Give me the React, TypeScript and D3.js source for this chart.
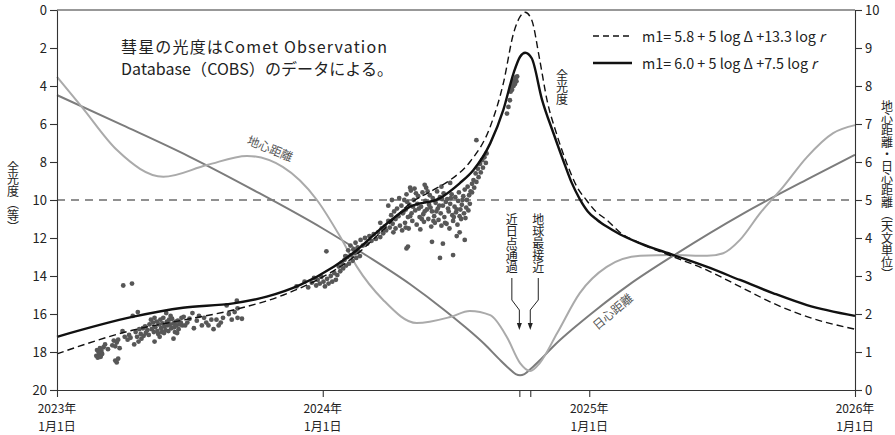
import React, { useEffect, useRef } from 'react';
import * as d3 from 'd3';

const FONT = '"Noto Sans CJK JP", "Noto Sans", sans-serif';
const t0 = Date.UTC(2023, 0, 1);
const dayToDate = (d: number) => new Date(t0 + d * 86400000);

// all series: [days since 2023-01-01, value]
// m1 = 5.8 + 5 log Δ + 13.3 log r (dashed)
const magSteep: [number, number][] = [
  [0, 18.1], [105, 16.84], [173, 16.32], [242, 15.79], [311, 15.0], [357, 14.21],
  [402, 13.16], [448, 11.58], [485, 10.18], [517, 9.47], [540, 8.95], [567, 8.0],
  [595, 6.14], [613, 3.86], [627, 1.23], [636, 0.35], [643, 0.12], [652, 0.53],
  [663, 2.63], [673, 4.74], [686, 6.5], [702, 8.25], [714, 9.3], [727, 10.0], [740, 10.6],
  [755, 11.05], [773, 11.7], [801, 12.28], [846, 12.98], [892, 13.68], [938, 14.56],
  [984, 15.44], [1030, 16.14], [1096, 16.8],
];
// m1 = 6.0 + 5 log Δ + 7.5 log r (solid)
const magShallow: [number, number][] = [
  [0, 17.2], [105, 16.14], [173, 15.67], [242, 15.44], [288, 15.09], [334, 14.47],
  [380, 13.51], [412, 12.63], [448, 11.4], [485, 10.35], [526, 9.9], [553, 9.12],
  [572, 8.42], [595, 7.02], [613, 5.26], [627, 3.33], [636, 2.46], [643, 2.25],
  [652, 2.54], [666, 4.7], [682, 6.5], [698, 8.2], [707, 9.1], [718, 9.95], [729, 10.6],
  [742, 11.05], [755, 11.4], [773, 11.8], [801, 12.28], [846, 12.89], [892, 13.51],
  [938, 14.21], [984, 14.91], [1030, 15.53], [1096, 16.1],
];
// geocentric distance Δ (AU)
const geoDist: [number, number][] = [
  [0, 8.24], [34, 7.45], [82, 6.32], [146, 5.61], [206, 5.92], [261, 6.16], [310, 5.87],
  [357, 5.0], [389, 4.03], [412, 3.24], [448, 2.37], [494, 1.76], [540, 1.92], [567, 2.08],
  [595, 1.97], [618, 1.39], [636, 0.71], [650, 0.5], [663, 0.71], [687, 1.5], [718, 2.55],
  [755, 3.24], [801, 3.53], [846, 3.55], [893, 3.53], [915, 3.6], [938, 3.95], [966, 4.66],
  [997, 5.34], [1030, 6.13], [1066, 6.76], [1096, 6.97],
];
// heliocentric distance r (AU)
const helioDist: [number, number][] = [
  [0, 7.76], [90, 6.97], [181, 6.15], [273, 5.23], [365, 4.25], [425, 3.54], [486, 2.77],
  [531, 2.12], [561, 1.65], [587, 1.21], [607, 0.82], [620, 0.58], [630, 0.42], [636, 0.39],
  [642, 0.42], [652, 0.58], [665, 0.82], [685, 1.21], [711, 1.65], [741, 2.12], [785, 2.76],
  [851, 3.59], [943, 4.65], [1035, 5.59], [1096, 6.19],
];
// COBS observations
const observations: [number, number][] = [
  [54, 18.2], [55, 17.9], [56, 18.3], [57, 18.0], [58, 18.15], [59, 17.8], [60, 18.25], [61, 17.95], [62, 18.1], [64, 17.75],
  [66, 17.6], [70, 17.85], [93, 17.2], [106, 17.6],
  [76, 17.65], [78, 17.4], [80, 17.7], [82, 17.5], [84, 17.35], [86, 17.8], [80, 18.45], [82, 18.55], [84, 18.35],
  [90, 16.9], [97, 17.35], [99, 17.1], [101, 17.25], [104, 16.1], [111, 15.9],
  [108, 16.95], [110, 17.2], [112, 17.45], [113, 16.8], [115, 17.05], [116, 17.3], [118, 16.75], [119, 17.15], [121, 16.65], [122, 17.0], [124, 16.85],
  [126, 17.1], [133, 16.95], [139, 17.05], [144, 16.95], [153, 16.9], [156, 16.1], [162, 16.95], [167, 16.8], [171, 16.2],
  [127, 16.55], [129, 16.3], [130, 16.8], [132, 16.45], [134, 16.2], [135, 16.7], [137, 16.4], [138, 16.9], [140, 16.55], [142, 16.3],
  [143, 16.75], [145, 16.5], [146, 16.2], [148, 16.65], [149, 16.85], [151, 16.4], [152, 16.6], [154, 16.3], [155, 16.55], [157, 16.75],
  [158, 16.25], [160, 16.5], [161, 16.7], [163, 16.4], [164, 16.6], [166, 16.35], [168, 16.55], [170, 16.45], [172, 16.6],
  [134, 17.45], [141, 17.2], [150, 15.95], [160, 17.3], [165, 17.0], [147, 17.0],
  [174, 16.15], [176, 16.6], [179, 16.45], [182, 16.25], [186, 15.95], [188, 16.75], [192, 16.35], [195, 16.1], [199, 16.6],
  [202, 16.2], [205, 16.45], [208, 16.6], [212, 16.3], [215, 16.8], [219, 16.3], [222, 16.6], [225, 16.45], [228, 16.2],
  [233, 15.55], [236, 16.0], [240, 16.3], [244, 15.9], [247, 15.3], [248, 15.7], [248, 16.2], [254, 16.25],
  [91, 14.5], [103, 14.4],
  [329, 14.55], [340, 14.3], [345, 14.6],
  [350, 14.35], [353, 14.1], [356, 14.5], [358, 14.2], [361, 14.4], [363, 14.05], [366, 14.3], [368, 14.55], [371, 14.15],
  [373, 14.4], [376, 14.0], [378, 14.3], [381, 13.85], [383, 14.2], [385, 13.95], [370, 12.7],
  [387, 13.5], [389, 13.75], [391, 13.3], [393, 13.6], [395, 13.15], [397, 13.45], [399, 13.0], [401, 13.35], [404, 12.9],
  [406, 13.2], [409, 12.8], [411, 13.05], [414, 12.7], [416, 12.95],
  [396, 12.95], [400, 12.65], [403, 12.4], [407, 12.6], [410, 12.25], [413, 12.5], [417, 12.1], [420, 12.4], [423, 12.0],
  [426, 12.3], [429, 11.9], [432, 12.15], [435, 11.8], [438, 12.05], [441, 11.7], [444, 11.95], [446, 11.5], [448, 11.75],
  [444, 11.2], [450, 11.4], [452, 11.6], [455, 11.1], [457, 11.45], [459, 10.8], [461, 11.25], [463, 10.6], [465, 11.0],
  [467, 10.45], [469, 10.85], [471, 11.35], [473, 10.3], [475, 10.7],
  [455, 10.3], [460, 10.0], [465, 11.5], [470, 9.9], [474, 11.6], [462, 11.7],
  [477, 10.0], [478, 11.2], [479, 10.5], [480, 9.7], [482, 10.9], [483, 11.5], [484, 10.25], [486, 9.5], [487, 10.7],
  [488, 11.1], [490, 10.0], [491, 9.4], [492, 10.55], [494, 11.3], [495, 10.2], [496, 9.8], [498, 10.9], [499, 11.55],
  [500, 10.35], [502, 9.6], [503, 10.75], [504, 11.15], [506, 10.05], [507, 9.35], [508, 10.5], [510, 11.0], [511, 10.25],
  [512, 9.75], [514, 11.4], [515, 10.6], [516, 9.9], [518, 10.85], [519, 11.2], [520, 10.15], [522, 9.55], [523, 10.45],
  [524, 11.05], [526, 9.85], [527, 10.7], [528, 11.35], [530, 10.3], [531, 9.65], [532, 10.9], [534, 10.1], [535, 11.25],
  [536, 9.95], [538, 10.6], [539, 11.5], [540, 10.2], [542, 9.7], [543, 10.8], [544, 11.1], [546, 10.35], [547, 9.85],
  [548, 10.65], [550, 11.3], [551, 10.05], [552, 9.6], [554, 10.5], [555, 11.0], [556, 10.25], [558, 9.8], [559, 10.7],
  [560, 9.45], [562, 10.4], [563, 10.0], [564, 9.3], [566, 9.75], [567, 10.2], [568, 9.55], [570, 9.15],
  [476, 10.6], [479, 11.45], [481, 10.1], [485, 10.85], [489, 10.35], [493, 9.65], [497, 10.45], [501, 11.0], [505, 10.6],
  [509, 9.55], [513, 10.4], [517, 11.1], [521, 10.6], [525, 10.3], [529, 9.95], [533, 11.2], [537, 10.45], [541, 9.9],
  [545, 10.9], [549, 10.5], [553, 10.85], [557, 10.0], [561, 10.95], [565, 10.55],
  [485, 9.35], [505, 9.2], [528, 9.3], [480, 12.55], [482, 12.45], [526, 13.05], [544, 12.9], [549, 11.9], [560, 12.1],
  [530, 12.3], [515, 12.2], [553, 11.7],
  [570, 9.6], [572, 8.95], [573, 9.35], [575, 8.6], [576, 9.05], [578, 8.35], [579, 8.8], [581, 8.1], [582, 8.55],
  [584, 7.9], [585, 8.3], [587, 7.75], [589, 8.05], [590, 7.55], [576, 6.85], [540, 9.1],
  [618, 5.45], [620, 5.1], [622, 4.75], [623, 4.3], [624, 4.05], [625, 4.2], [626, 3.85], [627, 4.0], [628, 3.7],
  [629, 3.9], [630, 3.55], [631, 3.75], [632, 3.5],
];

const yearTicks = ['2023', '2024', '2025', '2026'];
const magTicks = [0, 2, 4, 6, 8, 10, 12, 14, 16, 18, 20];
const auTicks = [0, 1, 2, 3, 4, 5, 6, 7, 8, 9, 10];
const perihelionDay = 635; // 2024-09-27
const closestDay = 650; // 2024-10-12
const legendLabels = ['m1= 5.8 + 5 log Δ +13.3 log', 'm1= 6.0 + 5 log Δ +7.5 log'];

const W = 895, H = 435;
const M = { left: 57, right: 40, top: 10, bottom: 45 };

function VText({ x, y, text, size, fill = '#222' }: { x: number; y: number; text: string; size: number; fill?: string }) {
  // y is the vertical centre of the column
  return (
    <text x={x} y={y} fontSize={size} fill={fill} fontFamily={FONT} textAnchor="middle"
      style={{ writingMode: 'vertical-rl' } as React.CSSProperties}>{text}</text>
  );
}

export default function App() {
  const x = d3.scaleUtc().domain([new Date(Date.UTC(2023, 0, 1)), new Date(Date.UTC(2026, 0, 1))]).range([M.left, W - M.right]);
  const yMag = d3.scaleLinear().domain([0, 20]).range([M.top, H - M.bottom]);
  const yAU = d3.scaleLinear().domain([0, 10]).range([H - M.bottom, M.top]);

  const leftRef = useRef<SVGGElement>(null);
  const rightRef = useRef<SVGGElement>(null);
  const bottomRef = useRef<SVGGElement>(null);
  const eventRef = useRef<SVGGElement>(null);
  const legendRef = useRef<SVGGElement>(null);

  useEffect(() => {
    const style = (g: d3.Selection<SVGGElement, unknown, null, undefined>) => {
      g.attr('font-family', FONT).attr('font-size', 13);
      g.selectAll('line,path').attr('stroke', '#333').attr('stroke-width', 1.1);
      g.selectAll('text').attr('fill', '#222');
    };
    const l = d3.select(leftRef.current!);
    l.call(d3.axisLeft(yMag).tickValues(magTicks).tickSize(7).tickPadding(3).tickSizeOuter(0));
    style(l);
    const r = d3.select(rightRef.current!);
    r.call(d3.axisRight(yAU).tickValues(auTicks).tickSize(7).tickPadding(3).tickSizeOuter(0));
    style(r);
    const b = d3.select(bottomRef.current!);
    b.call(d3.axisBottom(x).tickValues(yearTicks.map(s => new Date(Date.UTC(+s, 0, 1)))).tickSize(7).tickSizeOuter(0).tickFormat(() => ''));
    style(b);
    const e = d3.select(eventRef.current!);
    e.call(d3.axisBottom(x).tickValues([dayToDate(perihelionDay), dayToDate(closestDay)]).tickSize(7).tickFormat(() => ''));
    style(e);
    e.select('.domain').remove();

    // place the italic r just after each legend label
    const lg = d3.select(legendRef.current!);
    lg.selectAll<SVGTextElement, unknown>('text.lab').each(function (_, i) {
      const len = this.getComputedTextLength();
      lg.select(`text.rv${i}`).attr('x', 642 + len + 3);
    });
  }, []);

  const magLine = d3.line<[number, number]>().x(d => x(dayToDate(d[0]))).y(d => yMag(d[1])).curve(d3.curveMonotoneX);
  const auLine = d3.line<[number, number]>().x(d => x(dayToDate(d[0]))).y(d => yAU(d[1])).curve(d3.curveMonotoneX);

  const [x0, x1] = x.range();
  const xp = x(dayToDate(perihelionDay));
  const xc = x(dayToDate(closestDay));
  const arrowTop = 278, bend1 = 300, bend2 = 310, tip = 330;

  return (
    <svg width={W} height={H} style={{ position: 'absolute', left: 0, top: 0, background: '#fff' }} fontFamily={FONT}>
      <line x1={x0} x2={x1} y1={M.top} y2={M.top} stroke="#333" strokeWidth={1.1} />
      <line x1={x0} x2={x1} y1={yMag(10)} y2={yMag(10)} stroke="#222" strokeWidth={1.1} strokeDasharray="8,6" />

      <path d={auLine(helioDist) || ''} fill="none" stroke="#7c7c7c" strokeWidth={2} />
      <path d={auLine(geoDist) || ''} fill="none" stroke="#aaaaaa" strokeWidth={2} />

      <g fill="#575757">
        {observations.map((d, i) => (
          <circle key={i} cx={x(dayToDate(d[0]))} cy={yMag(d[1])} r={2.4} />
        ))}
      </g>

      <path d={magLine(magSteep) || ''} fill="none" stroke="#111" strokeWidth={1.4} strokeDasharray="7,4" />
      <path d={magLine(magShallow) || ''} fill="none" stroke="#111" strokeWidth={2.4} />

      <g ref={leftRef} transform={`translate(${M.left},0)`} />
      <g ref={rightRef} transform={`translate(${W - M.right},0)`} />
      <g ref={bottomRef} transform={`translate(0,${H - M.bottom})`} />
      <g ref={eventRef} transform={`translate(0,${H - M.bottom})`} />

      {yearTicks.map(s => {
        const tx = x(new Date(Date.UTC(+s, 0, 1)));
        return (
          <g key={s}>
            <text x={tx} y={413} textAnchor="middle" fontSize={12} fill="#222">{s}年</text>
            <text x={tx} y={430.5} textAnchor="middle" fontSize={12} fill="#222">1月1日</text>
          </g>
        );
      })}

      <VText x={13} y={197} text="全光度（等）" size={12} />
      <VText x={887} y={190} text="地心距離・日心距離（天文単位）" size={12} />

      <text x={121} y={53} fontSize={16} fill="#222" textLength={266} lengthAdjust="spacing">彗星の光度はComet Observation</text>
      <text x={121} y={75} fontSize={16} fill="#222" textLength={272} lengthAdjust="spacing">Database（COBS）のデータによる。</text>

      <line x1={593} x2={632} y1={36} y2={36} stroke="#111" strokeWidth={1.4} strokeDasharray="6,4" />
      <line x1={593} x2={632} y1={63} y2={63} stroke="#111" strokeWidth={2.4} />
      <g ref={legendRef}>
        {legendLabels.map((t, i) => (
          <g key={t}>
            <text className="lab" x={642} y={42 + i * 27} fontSize={14.3} fill="#222">{t}</text>
            <text className={`rv${i}`} x={642 + 170} y={42 + i * 27} fontSize={14.3} fill="#222" fontStyle="italic">r</text>
          </g>
        ))}
      </g>

      <VText x={562} y={87} text="全光度" size={12} />
      <VText x={xp - 7.5} y={243} text="近日点通過" size={12} />
      <VText x={xc + 8} y={243} text="地球最接近" size={12} />

      <polyline points={`${xp - 7.5},${arrowTop} ${xp - 7.5},${bend1} ${xp},${bend2} ${xp},${tip - 6}`} fill="none" stroke="#222" strokeWidth={1} />
      <polygon points={`${xp - 2.5},${tip - 7} ${xp + 2.5},${tip - 7} ${xp},${tip}`} fill="#222" />
      <polyline points={`${xc + 8},${arrowTop} ${xc + 8},${bend1} ${xc},${bend2} ${xc},${tip - 6}`} fill="none" stroke="#222" strokeWidth={1} />
      <polygon points={`${xc - 2.5},${tip - 7} ${xc + 2.5},${tip - 7} ${xc},${tip}`} fill="#222" />

      <text x={270} y={153} fontSize={12} fill="#555" textAnchor="middle" transform="rotate(22,270,149)">地心距離</text>
      <text x={613} y={316} fontSize={12} fill="#555" textAnchor="middle" transform="rotate(-40,613,312)">日心距離</text>
    </svg>
  );
}
